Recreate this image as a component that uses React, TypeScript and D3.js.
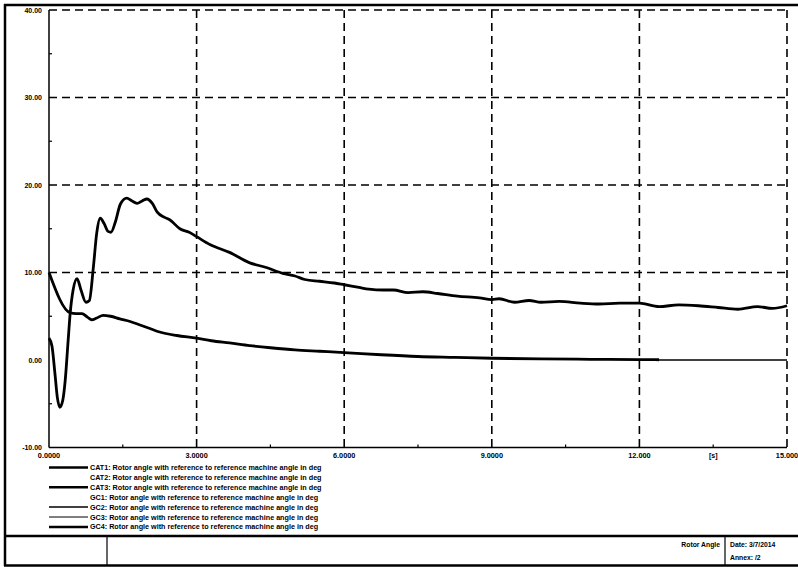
import React, { useEffect, useRef } from 'react'
import * as d3 from 'd3';

// upper curve (rotor angle swing)
const upperTime = [0, 0.06, 0.12, 0.17, 0.22, 0.28, 0.33, 0.39, 0.43, 0.49, 0.57, 0.65, 0.75, 0.82, 0.9, 0.97, 1.04, 1.12, 1.2, 1.26, 1.35, 1.45, 1.58, 1.68, 1.79, 1.9, 1.99, 2.1, 2.2, 2.35, 2.46, 2.66, 2.85, 3.0, 3.27, 3.67, 4.08, 4.4, 4.75, 5.0, 5.2, 5.5, 5.8, 6.0, 6.3, 6.5, 6.8, 7.0, 7.3, 7.6, 7.9, 8.3, 8.75, 9.0, 9.15, 9.46, 9.76, 10.0, 10.37, 10.8, 11.18, 11.6, 12.0, 12.4, 12.8, 13.2, 13.6, 14.0, 14.4, 14.7, 15.0];
const upperValue = [2.5, 1.6, -1.5, -4.3, -5.4, -4.6, -2.3, 2.3, 5.3, 8.0, 9.3, 8.0, 6.6, 6.8, 10.5, 14.5, 16.2, 15.6, 14.7, 14.6, 15.8, 17.8, 18.5, 18.2, 17.9, 18.2, 18.4, 17.9, 16.9, 16.3, 16.0, 15.0, 14.6, 14.1, 13.2, 12.3, 11.1, 10.6, 9.9, 9.6, 9.2, 9.0, 8.8, 8.6, 8.3, 8.1, 8.0, 8.0, 7.7, 7.8, 7.6, 7.3, 7.1, 6.9, 7.0, 6.6, 6.8, 6.6, 6.7, 6.5, 6.4, 6.5, 6.5, 6.1, 6.3, 6.2, 6.0, 5.8, 6.1, 5.9, 6.2];

// lower curve
const lowerTime = [0, 0.43, 0.55, 0.67, 0.78, 0.87, 0.97, 1.1, 1.25, 1.44, 1.65, 1.85, 2.05, 2.25, 2.6, 3.0, 3.3, 3.67, 4.08, 4.5, 5.0, 5.5, 6.0, 6.75, 7.5, 8.25, 9.0, 10.0, 11.0, 12.0, 12.4];
const lowerValue = [10, 5.4, 5.3, 5.3, 4.9, 4.6, 4.8, 5.1, 5.0, 4.7, 4.4, 4.0, 3.6, 3.2, 2.8, 2.5, 2.2, 1.95, 1.65, 1.4, 1.15, 1.0, 0.85, 0.6, 0.4, 0.3, 0.2, 0.12, 0.08, 0.05, 0.03];

// thin flat trace at zero
const flatTime = [12, 15];
const flatValue = [0, 0];

const yTicks = [-10, 0, 10, 20, 30, 40];
const yMinor = [-5, 5, 15, 25, 35];
const xTicks = [0, 3, 6, 9, 12, 15];
const xTickLabels = ['0.0000', '3.0000', '6.0000', '9.0000', '12.000', '15.000'];
const xMinor = [1.5, 4.5, 7.5, 10.5, 13.5];
const legendNames = ['CAT1', 'CAT2', 'CAT3', 'GC1', 'GC2', 'GC3', 'GC4'];
const legendWidths = [2.5, 0, 2.5, 0, 1.5, 1.2, 2.5];
const legendText = ': Rotor angle with reference to reference machine angle in deg';

const App = () => {
  const ref = useRef<SVGSVGElement>(null);
  const width = 798;
  const height = 567;
  const left = 49, right = 787, top = 10, bottom = 447.5;

  useEffect(() => {
    const svg = d3.select(ref.current);
    svg.selectAll('*').remove();
    const font = 'Liberation Sans, Arial, sans-serif';

    const x = d3.scaleLinear().domain([0, 15]).range([left, right]);
    const y = d3.scaleLinear().domain([-10, 40]).range([bottom, top]);

    svg.append('rect').attr('width', width).attr('height', height).attr('fill', '#fff');

    // outer frame
    svg.append('line').attr('x1', 4).attr('x2', width).attr('y1', 5).attr('y2', 5)
      .attr('stroke', '#000').attr('stroke-width', 2.5);
    svg.append('line').attr('x1', 5).attr('x2', 5).attr('y1', 4).attr('y2', 566)
      .attr('stroke', '#000').attr('stroke-width', 2.5);

    // dashed grid
    const grid = svg.append('g').attr('stroke', '#000').attr('stroke-width', 1.6)
      .attr('stroke-dasharray', '8,5').attr('fill', 'none');
    grid.selectAll('.gy').data([10, 20, 30, 40]).enter().append('line')
      .attr('x1', left).attr('x2', right).attr('y1', d => y(d)).attr('y2', d => y(d));
    grid.selectAll('.gx').data([3, 6, 9, 12, 15]).enter().append('line')
      .attr('x1', d => x(d)).attr('x2', d => x(d)).attr('y1', top).attr('y2', bottom);

    // axes
    svg.append('line').attr('x1', left).attr('x2', left).attr('y1', top).attr('y2', bottom)
      .attr('stroke', '#000').attr('stroke-width', 1.5);
    svg.append('line').attr('x1', left).attr('x2', right).attr('y1', bottom).attr('y2', bottom)
      .attr('stroke', '#000').attr('stroke-width', 1.5);
    svg.selectAll('.ym').data(yMinor).enter().append('line')
      .attr('x1', left).attr('x2', left + 3).attr('y1', d => y(d)).attr('y2', d => y(d))
      .attr('stroke', '#000').attr('stroke-width', 1.2);
    svg.selectAll('.xm').data(xMinor).enter().append('line')
      .attr('x1', d => x(d)).attr('x2', d => x(d)).attr('y1', bottom).attr('y2', bottom - 3)
      .attr('stroke', '#000').attr('stroke-width', 1.2);

    svg.selectAll('.yl').data(yTicks).enter().append('text')
      .attr('x', 42).attr('y', d => y(d) + 2.5).attr('text-anchor', 'end')
      .attr('font-family', font).attr('font-size', 7).attr('font-weight', 'bold')
      .text(d => d.toFixed(2));
    svg.selectAll('.xl').data(xTicks).enter().append('text')
      .attr('x', d => x(d)).attr('y', 458).attr('text-anchor', 'middle')
      .attr('font-family', font).attr('font-size', 7.3).attr('font-weight', 'bold')
      .text((d, i) => xTickLabels[i]);
    svg.append('text').attr('x', x(13.5)).attr('y', 458).attr('text-anchor', 'middle')
      .attr('font-family', font).attr('font-size', 7).attr('font-weight', 'bold').text('[s]');

    // curves
    const line = d3.line<[number, number]>().x(d => x(d[0])).y(d => y(d[1])).curve(d3.curveMonotoneX);
    svg.append('path').datum(flatTime.map((t, i) => [t, flatValue[i]] as [number, number]))
      .attr('d', line).attr('fill', 'none').attr('stroke', '#000').attr('stroke-width', 1.5);
    svg.append('path').datum(lowerTime.map((t, i) => [t, lowerValue[i]] as [number, number]))
      .attr('d', line).attr('fill', 'none').attr('stroke', '#000').attr('stroke-width', 2.8);
    svg.append('path').datum(upperTime.map((t, i) => [t, upperValue[i]] as [number, number]))
      .attr('d', line).attr('fill', 'none').attr('stroke', '#000').attr('stroke-width', 2.8)
      .attr('stroke-linejoin', 'round');

    // legend
    const lg = svg.selectAll('.lg').data(legendNames).enter().append('g')
      .attr('transform', (d, i) => `translate(0, ${467.5 + i * 9.9})`);
    lg.filter((d, i) => legendWidths[i] > 0).append('line')
      .attr('x1', 49).attr('x2', 88).attr('y1', 0).attr('y2', 0)
      .attr('stroke', '#000').attr('stroke-width', d => legendWidths[legendNames.indexOf(d)]);
    lg.append('text').attr('x', 90).attr('y', 2.5)
      .attr('font-family', font).attr('font-size', 7.2).attr('font-weight', 'bold')
      .text(d => d + legendText);

    // title block
    svg.append('line').attr('x1', 4).attr('x2', width).attr('y1', 536).attr('y2', 536)
      .attr('stroke', '#000').attr('stroke-width', 2.5);
    svg.append('line').attr('x1', 4).attr('x2', width).attr('y1', 565.5).attr('y2', 565.5)
      .attr('stroke', '#000').attr('stroke-width', 2.5);
    svg.append('line').attr('x1', 107).attr('x2', 107).attr('y1', 536).attr('y2', 566)
      .attr('stroke', '#000').attr('stroke-width', 1.2);
    svg.append('line').attr('x1', 725).attr('x2', 725).attr('y1', 536).attr('y2', 566)
      .attr('stroke', '#000').attr('stroke-width', 1.2);
    svg.append('text').attr('x', 720).attr('y', 547).attr('text-anchor', 'end')
      .attr('font-family', font).attr('font-size', 6.8).attr('font-weight', 'bold').text('Rotor Angle');
    svg.append('text').attr('x', 730).attr('y', 547)
      .attr('font-family', font).attr('font-size', 6.8).attr('font-weight', 'bold').text('Date:  3/7/2014');
    svg.append('text').attr('x', 730).attr('y', 560)
      .attr('font-family', font).attr('font-size', 6.8).attr('font-weight', 'bold').text('Annex:   /2');
  }, []);

  return (
    <svg ref={ref} width={width} height={height}
      style={{ position: 'absolute', left: 0, top: 0, display: 'block' }} />
  )
}
export default App
